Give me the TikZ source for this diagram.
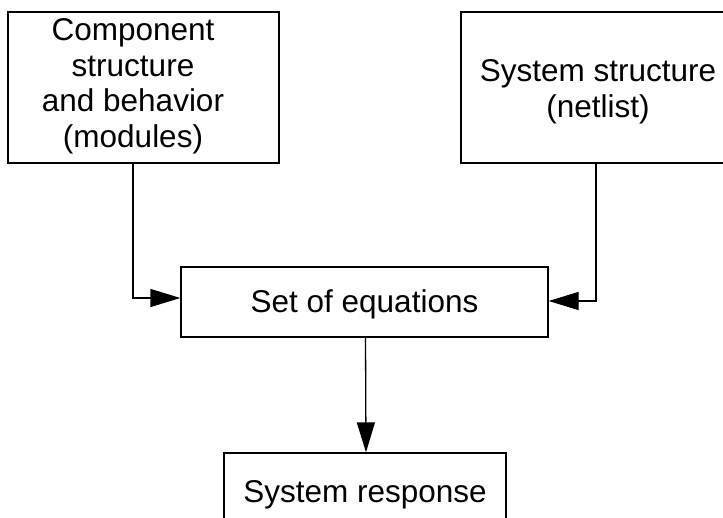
\documentclass[tikz,border=0pt]{standalone}
\usepackage{fontspec}
\setmainfont{Liberation Sans}
\usetikzlibrary{arrows.meta}
\begin{document}
\begin{tikzpicture}[x=1pt,y=-1pt,
  box/.style={draw,line width=1.3pt,rectangle,inner sep=0pt},
  lbl/.style={font=\fontsize{31.5}{35.5}\selectfont,align=center,inner sep=0pt,anchor=base},
  conn/.style={line width=1.3pt,-{Triangle[length=30pt,width=18pt]}}]
\useasboundingbox (0,0) rectangle (723,517);
\clip (0,0) rectangle (723,517);

% frames
\node[box,minimum width=271pt,minimum height=151pt] (comp) at (143.5,87.5) {};
\node[box,minimum width=274pt,minimum height=151pt] (sys)  at (598,87.5) {};
\node[box,minimum width=367pt,minimum height=70pt]  (eqs)  at (364.5,302) {};
\node[box,minimum width=282pt,minimum height=70pt]  (resp) at (365,488) {};

% labels (base anchor sits on the last line)
\node[lbl] (complbl) at (133,147) {Component\\structure\\and behavior\\(modules)};
\node[lbl] (syslbl) at (598,117) {System structure\\(netlist)};
\node[lbl] (eqslbl) at (364.5,312) {Set of equations};
\node[lbl] (resplbl) at (365,502) {System response};

% connectors
\draw[conn] ([xshift=-10.5pt]comp.south) |- ([yshift=4pt]eqs.west);
\draw[conn] ([xshift=-2pt]sys.south) |- ([yshift=1pt]eqs.east);
\draw[conn] ([xshift=1pt]eqs.south) -- ([xshift=1pt]resp.north);
\end{tikzpicture}
\end{document}
